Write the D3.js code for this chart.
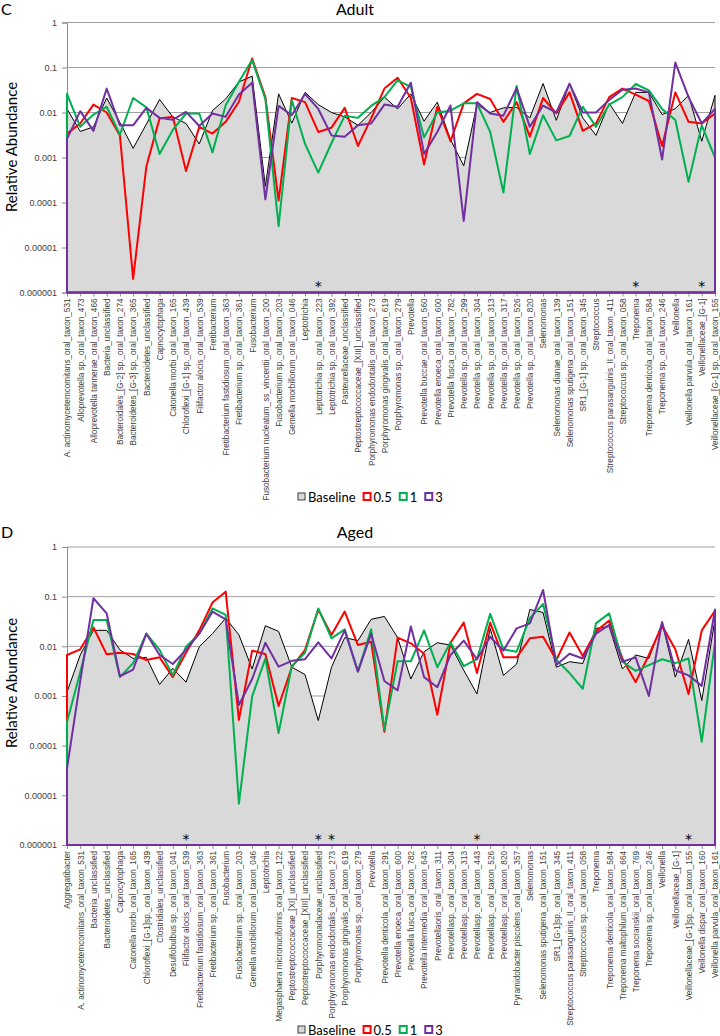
<!DOCTYPE html>
<html>
<head>
<meta charset="utf-8">
<script src="https://cdn.jsdelivr.net/npm/d3@7"></script>
<style>
  body { margin: 0; background: #fff; }
  svg { font-family: Lato, "Open Sans", sans-serif; }
</style>
</head>
<body>
<svg id="chart" width="720" height="1036"></svg>
<script>
var seriesNames = ["Baseline", "0.5", "1", "3"];
var seriesColors = ["#000000", "#ff0000", "#00b050", "#7030a0"];
var yTicks = [1, 0.1, 0.01, 0.001, 0.0001, 0.00001, 0.000001];
var yTickLabels = ["1", "0.1", "0.01", "0.001", "0.0001", "0.00001", "0.000001"];

// panel C - adult
var adultCats = [
  "A. actinomycetemcomitans_oral_taxon_531", "Alloprevotella sp._oral_taxon_473",
  "Alloprevotella tannerae_oral_taxon_466", "Bacteria_unclassified",
  "Bacteroidales_[G-2] sp._oral_taxon_274", "Bacteroidetes_[G-3] sp._oral_taxon_365",
  "Bacteroidetes_unclassified", "Capnocytophaga", "Catonella morbi_oral_taxon_165",
  "Chloroflexi_[G-1] sp._oral_taxon_439", "Filifactor alocis_oral_taxon_539", "Fretibacterium",
  "Fretibacterium fastidiosum_oral_taxon_363", "Fretibacterium sp._oral_taxon_361", "Fusobacterium",
  "Fusobacterium nucleatum_ss_vincentii_oral_taxon_200", "Fusobacterium sp._oral_taxon_203",
  "Gemella morbillorum_oral_taxon_046", "Leptotrichia", "Leptotrichia sp._oral_taxon_223",
  "Leptotrichia sp._oral_taxon_392", "Pasteurellaceae_unclassified",
  "Peptostreptococcaceae_[XIII]_unclassified", "Porphyromonas endodontalis_oral_taxon_273",
  "Porphyromonas gingivalis_oral_taxon_619", "Porphyromonas sp._oral_taxon_279", "Prevotella",
  "Prevotella buccae_oral_taxon_560", "Prevotella enoeca_oral_taxon_600", "Prevotella fusca_oral_taxon_782",
  "Prevotella sp._oral_taxon_299", "Prevotella sp._oral_taxon_304", "Prevotella sp._oral_taxon_313",
  "Prevotella sp._oral_taxon_317", "Prevotella sp._oral_taxon_526", "Prevotella sp._oral_taxon_820",
  "Selenomonas", "Selenomonas dianae_oral_taxon_139", "Selenomonas sputigena_oral_taxon_151",
  "SR1_[G-1] sp._oral_taxon_345", "Streptococcus", "Streptococcus parasanguinis_II_oral_taxon_411",
  "Streptococcus sp._oral_taxon_058", "Treponema", "Treponema denticola_oral_taxon_584",
  "Treponema sp._oral_taxon_246", "Veillonella", "Veillonella parvula_oral_taxon_161",
  "Veillonellaceae_[G-1]", "Veillonellaceae_[G-1] sp._oral_taxon_155"
];
var adultBaseline = [0.012, 0.0038, 0.0048, 0.021, 0.006, 0.0016, 0.0055, 0.0195, 0.008, 0.0057,
  0.002, 0.011, 0.02, 0.048, 0.064, 0.00023, 0.026, 0.0058, 0.028, 0.015,
  0.01, 0.008, 0.0052, 0.01, 0.022, 0.012, 0.026, 0.0064, 0.017, 0.0025,
  0.00065, 0.015, 0.01, 0.0127, 0.013, 0.0076, 0.044, 0.0067, 0.044, 0.0076,
  0.0031, 0.016, 0.0057, 0.028, 0.028, 0.009, 0.0122, 0.024, 0.0023, 0.024];
var adultHalf = [0.0034, 0.0057, 0.015, 0.01, 0.0031, 0.000002, 0.00063, 0.0074, 0.008, 0.0005,
  0.0048, 0.0034, 0.0062, 0.0174, 0.158, 0.022, 0.00011, 0.021, 0.017, 0.0037,
  0.0046, 0.0127, 0.0018, 0.0074, 0.034, 0.059, 0.021, 0.0007, 0.0134, 0.0023,
  0.016, 0.026, 0.02, 0.0062, 0.017, 0.0029, 0.021, 0.0095, 0.028, 0.0039,
  0.0057, 0.022, 0.034, 0.025, 0.018, 0.0018, 0.028, 0.0062, 0.0057, 0.0095];
var adultOne = [0.026, 0.0048, 0.009, 0.0134, 0.0032, 0.021, 0.013, 0.0012, 0.0041, 0.0095,
  0.0095, 0.0013, 0.0145, 0.048, 0.146, 0.02, 0.00003, 0.019, 0.002, 0.00046,
  0.0021, 0.0085, 0.0076, 0.014, 0.022, 0.052, 0.037, 0.0028, 0.01, 0.011,
  0.016, 0.016, 0.0037, 0.000166, 0.039, 0.0012, 0.0087, 0.0024, 0.003, 0.0134,
  0.0048, 0.015, 0.022, 0.043, 0.031, 0.012, 0.0068, 0.00029, 0.0052, 0.001];
var adultThree = [0.0026, 0.0107, 0.0039, 0.034, 0.0052, 0.0052, 0.0127, 0.0076, 0.0069, 0.0103,
  0.005, 0.0095, 0.008, 0.025, 0.046, 0.000118, 0.014, 0.0087, 0.026, 0.012,
  0.0031, 0.0029, 0.0052, 0.0057, 0.015, 0.0134, 0.046, 0.0012, 0.0037, 0.0143,
  0.000039, 0.017, 0.0095, 0.0085, 0.035, 0.0048, 0.0143, 0.01, 0.044, 0.01,
  0.01, 0.019, 0.032, 0.034, 0.028, 0.0009, 0.129, 0.022, 0.0057, 0.012];
var adultStars = ["Leptotrichia sp._oral_taxon_223", "Treponema", "Veillonellaceae_[G-1]"];

// panel D - aged
var agedCats = [
  "Aggregatibacter", "A. actinomycetemcomitans_oral_taxon_531", "Bacteria_unclassified",
  "Bacteroidetes_unclassified", "Capnocytophaga", "Catonella morbi_oral_taxon_165",
  "Chloroflexi_[G-1]sp._oral_taxon_439", "Clostridiales_unclassified", "Desulfobulbus sp._oral_taxon_041",
  "Filifactor alocis_oral_taxon_539", "Fretibacterium fastidiosum_oral_taxon_363",
  "Fretibacterium sp._oral_taxon_361", "Fusobacterium", "Fusobacterium sp._oral_taxon_203",
  "Gemella morbillorum_oral_taxon_046", "Leptotrichia", "Megasphaera micronuciformis_oral_taxon_122",
  "Peptostreptococcaceae_[XI]_unclassified", "Peptostreptococcaceae_[XIII]_unclassified",
  "Porphyromonadaceae_unclassified", "Porphyromonas endodontalis_oral_taxon_273",
  "Porphyromonas gingivalis_oral_taxon_619", "Porphyromonas sp._oral_taxon_279", "Prevotella",
  "Prevotella denticola_oral_taxon_291", "Prevotella enoeca_oral_taxon_600", "Prevotella fusca_oral_taxon_782",
  "Prevotella intermedia_oral_taxon_643", "Prevotellaoris_oral_taxon_311", "Prevotellasp._oral_taxon_304",
  "Prevotellasp._oral_taxon_313", "Prevotellasp._oral_taxon_443", "Prevotellasp._oral_taxon_526",
  "Prevotellasp._oral_taxon_820", "Pyramidobacter piscolens_oral_taxon_357", "Selenomonas",
  "Selenomonas sputigena_oral_taxon_151", "SR1_[G-1]sp._oral_taxon_345",
  "Streptococcus parasanguinis_II_oral_taxon_411", "Streptococcus sp._oral_taxon_058", "Treponema",
  "Treponema denticola_oral_taxon_584", "Treponema maltophilum_oral_taxon_664",
  "Treponema socranskii_oral_taxon_769", "Treponema sp._oral_taxon_246", "Veillonella",
  "Veillonellaceae_[G-1]", "Veillonellaceae_[G-1]sp._oral_taxon_155", "Veillonella dispar_oral_taxon_160",
  "Veillonella parvula_oral_taxon_161"
];
var agedBaseline = [0.0012, 0.0067, 0.021, 0.021, 0.0085, 0.0057, 0.006, 0.0017, 0.0036, 0.0019,
  0.0098, 0.018, 0.037, 0.017, 0.0035, 0.026, 0.02, 0.0038, 0.0027, 0.00032,
  0.0038, 0.015, 0.013, 0.035, 0.04, 0.015, 0.0022, 0.0078, 0.0118, 0.0106,
  0.0033, 0.0011, 0.023, 0.0026, 0.0044, 0.055, 0.048, 0.0038, 0.0049, 0.0045,
  0.023, 0.025, 0.0035, 0.0067, 0.0057, 0.03, 0.0024, 0.0138, 0.00081, 0.035];
var agedHalf = [0.0067, 0.0087, 0.024, 0.0069, 0.0074, 0.007, 0.0053, 0.006, 0.0024, 0.0074,
  0.021, 0.076, 0.126, 0.00033, 0.0082, 0.007, 0.00063, 0.0038, 0.0085, 0.055,
  0.017, 0.05, 0.0106, 0.0124, 0.00019, 0.015, 0.0115, 0.0071, 0.00042, 0.0118,
  0.03, 0.0029, 0.03, 0.006, 0.006, 0.0145, 0.0156, 0.0053, 0.019, 0.0064,
  0.02, 0.033, 0.0057, 0.0019, 0.0067, 0.026, 0.0087, 0.0011, 0.021, 0.052];
var agedOne = [0.0003, 0.003, 0.034, 0.034, 0.0024, 0.0046, 0.018, 0.0085, 0.0026, 0.0098,
  0.018, 0.058, 0.043, 0.0000068, 0.00098, 0.0057, 0.00018, 0.004, 0.0074, 0.058,
  0.0145, 0.022, 0.0031, 0.022, 0.00021, 0.005, 0.005, 0.021, 0.0038, 0.012,
  0.004, 0.0055, 0.045, 0.0087, 0.0078, 0.037, 0.071, 0.0053, 0.0029, 0.0014,
  0.029, 0.046, 0.0049, 0.0032, 0.0042, 0.0055, 0.0046, 0.0057, 0.00012, 0.012];
var agedThree = [0.000035, 0.002, 0.093, 0.046, 0.0025, 0.0034, 0.018, 0.0067, 0.0044, 0.0085,
  0.018, 0.05, 0.035, 0.00066, 0.0022, 0.0118, 0.0039, 0.0051, 0.0055, 0.012,
  0.0057, 0.021, 0.0031, 0.018, 0.002, 0.0013, 0.025, 0.0024, 0.0015, 0.0067,
  0.013, 0.0055, 0.0156, 0.0082, 0.023, 0.029, 0.136, 0.0042, 0.0071, 0.0057,
  0.018, 0.027, 0.0049, 0.006, 0.001, 0.031, 0.0033, 0.0026, 0.0016, 0.055];
var agedStars = ["Filifactor alocis_oral_taxon_539", "Porphyromonadaceae_unclassified",
  "Porphyromonas endodontalis_oral_taxon_273", "Prevotellasp._oral_taxon_443",
  "Veillonellaceae_[G-1]sp._oral_taxon_155"];

var svg = d3.select("#chart");
var left = 67, right = 715;

drawPanel({
  letter: "C", title: "Adult", letterY: 15, top: 22.5, bottom: 292.5, labelY: 147, legendY: 497,
  cats: adultCats, series: [adultBaseline, adultHalf, adultOne, adultThree], stars: adultStars
});
drawPanel({
  letter: "D", title: "Aged", letterY: 538, top: 547, bottom: 845, labelY: 683, legendY: 1030,
  cats: agedCats, series: [agedBaseline, agedHalf, agedOne, agedThree], stars: agedStars
});

function drawPanel(p) {
  var g = svg.append("g");

  var x = d3.scalePoint().domain(p.cats).range([left, right]);
  var y = d3.scaleLog().domain([1e-6, 1]).range([p.bottom, p.top]);

  g.append("text")
      .attr("x", 1).attr("y", p.letterY)
      .attr("font-size", 16).attr("fill", "#000")
      .text(p.letter);

  g.append("text")
      .attr("x", 355).attr("y", p.letterY)
      .attr("text-anchor", "middle")
      .attr("font-size", 16).attr("fill", "#000")
      .text(p.title);

  g.append("text")
      .attr("transform", "translate(17," + p.labelY + ") rotate(-90)")
      .attr("text-anchor", "middle")
      .attr("font-size", 15).attr("fill", "#000")
      .text("Relative Abundance");

  // gridlines
  g.append("g").selectAll("line")
      .data(yTicks.slice(0, -1))
      .enter().append("line")
        .attr("x1", left).attr("x2", right)
        .attr("y1", function(d) { return y(d); })
        .attr("y2", function(d) { return y(d); })
        .attr("stroke", "#a0a0a0").attr("stroke-width", 1);

  var yAxis = g.append("g")
      .attr("transform", "translate(" + left + ",0)")
      .call(d3.axisLeft(y).tickValues(yTicks).tickSize(5).tickPadding(5)
        .tickFormat(function(d, i) { return yTickLabels[i]; }));
  yAxis.selectAll("path, line").attr("stroke", "#8c8c8c");
  yAxis.selectAll("text")
      .attr("font-family", "'Liberation Sans', Arial, sans-serif")
      .attr("font-size", 9).attr("fill", "#404040");

  var xAxis = g.append("g")
      .attr("transform", "translate(0," + p.bottom + ")")
      .call(d3.axisBottom(x).tickSize(4).tickSizeOuter(0));
  xAxis.selectAll("path, line").attr("stroke", "#8c8c8c");
  xAxis.selectAll("text")
      .attr("transform", "rotate(-90)")
      .attr("x", -6).attr("y", 0).attr("dy", "0.35em")
      .attr("text-anchor", "end")
      .attr("font-size", 8.2).attr("fill", "#404040");

  var area = d3.area()
      .x(function(d, i) { return x(p.cats[i]); })
      .y0(p.bottom)
      .y1(function(d) { return y(d); });

  p.series.forEach(function(values, k) {
    g.append("path")
        .datum(values)
        .attr("d", area)
        .attr("fill", k == 0 ? "#d9d9d9" : "none")
        .attr("stroke", seriesColors[k])
        .attr("stroke-width", k == 0 ? 1 : 2)
        .attr("stroke-linejoin", "round");
  });

  // significance marks
  g.append("g").selectAll("text")
      .data(p.stars)
      .enter().append("text")
        .attr("x", function(d) { return x(d); })
        .attr("y", p.bottom - 1.5)
        .attr("text-anchor", "middle")
        .attr("font-family", "'DejaVu Sans', sans-serif")
        .attr("font-size", 14).attr("fill", "#000")
        .text("*");

  // legend
  var lx = 298;
  var legend = g.append("g");
  seriesNames.forEach(function(name, k) {
    legend.append("rect")
        .attr("x", lx).attr("y", p.legendY - 4)
        .attr("width", 7).attr("height", 7)
        .attr("fill", k == 0 ? "#d9d9d9" : "#fff")
        .attr("stroke", k == 0 ? "#404040" : seriesColors[k])
        .attr("stroke-width", k == 0 ? 1 : 2);
    var t = legend.append("text")
        .attr("x", lx + 10).attr("y", p.legendY + 4.5)
        .attr("font-size", 13).attr("fill", "#000")
        .text(name);
    lx = lx + 10 + t.node().getComputedTextLength() + 8;
  });
}
</script>
</body>
</html>
